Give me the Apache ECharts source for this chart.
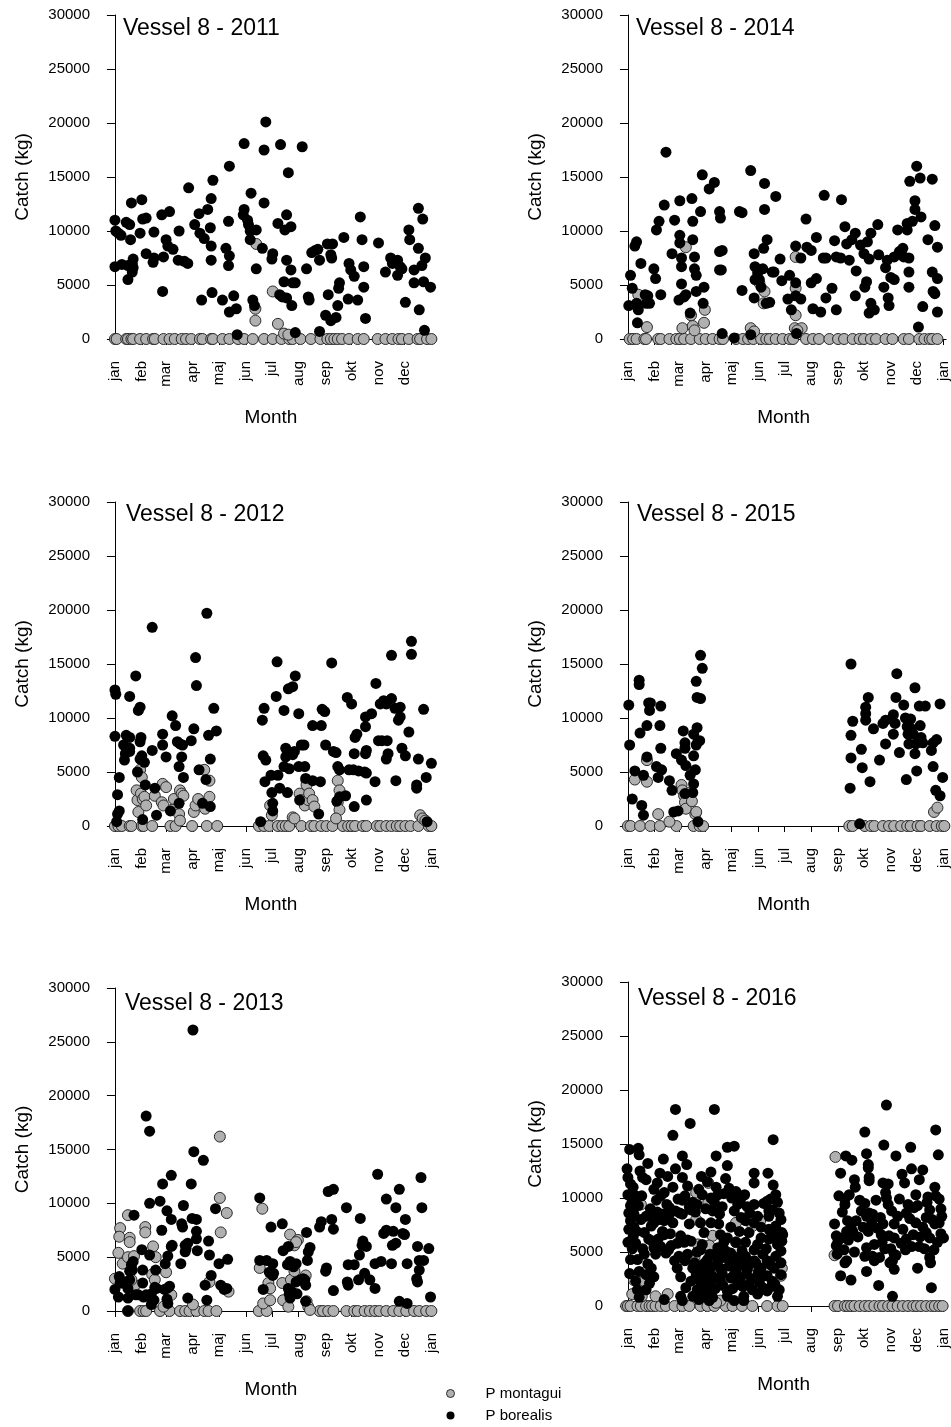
<!DOCTYPE html>
<html><head><meta charset="utf-8">
<script src="https://cdn.jsdelivr.net/npm/echarts@6/dist/echarts.min.js"></script>
<style>html,body{margin:0;padding:0;background:#fff}#c{width:951px;height:1427px}</style>
</head><body><div id="c"></div>
<script>
// ---- DATA (x = day of year, y = catch kg) ----
const monthStartDays = [0,31,59,90,120,151,181,212,243,273,304,334,365];
const monthNames = ['jan','feb','mar','apr','maj','jun','jul','aug','sep','okt','nov','dec','jan'];
const panelTitles = ['Vessel 8 - 2011','Vessel 8 - 2014','Vessel 8 - 2012','Vessel 8 - 2015','Vessel 8 - 2013','Vessel 8 - 2016'];

const bore2011 = [[0,11000],[0,6700],[1,10000],[4,9800],[7,9600],[8,6900],[13,10800],[15,5500],[15,6800],[17,10600],[18,9200],[19,12600],[20,7000],[21,7400],[20,6200],[21,6600],[29,9800],[31,12900],[32,11100],[36,11200],[36,7900],[45,9900],[44,7100],[45,7500],[54,11500],[55,4400],[56,7600],[59,9200],[61,8600],[63,11800],[67,8300],[74,10000],[73,7300],[80,7200],[84,7000],[85,14000],[92,10600],[97,11600],[98,9800],[100,3600],[103,9300],[107,12000],[110,10300],[111,13000],[113,14700],[111,8600],[111,7300],[112,4300],[124,3600],[128,8400],[131,10900],[132,7700],[131,6800],[132,16000],[132,2500],[137,4000],[140,2800],[141,400],[149,18100],[149,12000],[148,11500],[153,11000],[154,10600],[156,10000],[156,9200],[157,13500],[159,3600],[161,3100],[163,10100],[163,6500],[170,8400],[172,17500],[174,20100],[172,12600],[182,7900],[181,7400],[188,10700],[190,4100],[191,18000],[193,3900],[195,5300],[196,10100],[198,11500],[200,15400],[198,7300],[198,3800],[203,6400],[203,10400],[204,3100],[205,5200],[208,5200],[208,600],[216,17800],[221,6500],[223,3900],[224,3600],[227,8000],[231,8200],[234,8300],[236,7300],[236,700],[243,2200],[245,8800],[246,4100],[249,7800],[250,7500],[251,8800],[249,1700],[255,2000],[257,3100],[258,4700],[259,5200],[264,9400],[269,3700],[270,7000],[272,6400],[276,5800],[280,3600],[283,11300],[285,9200],[287,6700],[287,4800],[289,1900],[304,8900],[312,6200],[318,7500],[320,7000],[326,7300],[326,5900],[329,6700],[331,6500],[335,3400],[339,10100],[340,9200],[345,6400],[345,5200],[350,8400],[350,12100],[351,2700],[354,6800],[355,11100],[356,5300],[357,800],[358,7500],[364,4800]];
const mont2011 = [[0,0],[2,0],[13,0],[15,0],[19,0],[21,0],[29,0],[36,0],[44,0],[46,0],[56,0],[63,0],[69,0],[77,0],[82,0],[88,0],[98,0],[101,0],[111,0],[113,0],[124,0],[132,0],[142,0],[149,0],[159,0],[172,0],[182,0],[192,0],[201,0],[205,0],[214,0],[226,0],[237,0],[245,0],[249,0],[253,0],[257,0],[262,0],[270,0],[280,0],[287,0],[303,0],[312,0],[320,0],[327,0],[331,0],[339,0],[349,0],[352,0],[360,0],[365,0],[163,8800],[162,2800],[162,1700],[182,4400],[188,1400],[195,500],[200,400]];

const bore2014 = [[1,3100],[3,5900],[5,4700],[8,8600],[10,9000],[10,3300],[11,1500],[12,2700],[15,7000],[20,4100],[21,3300],[23,4000],[25,3300],[30,6500],[33,10100],[32,5600],[36,10900],[38,4100],[42,12400],[44,17300],[51,7900],[54,11000],[60,12800],[60,9600],[60,8900],[62,7500],[62,6700],[62,5100],[59,3600],[65,3900],[67,4100],[74,13000],[75,10900],[75,9200],[77,7600],[77,6500],[79,5900],[79,4400],[72,2400],[84,11800],[86,15200],[88,4800],[87,3300],[94,13900],[100,14500],[106,11800],[107,11200],[106,8100],[109,8200],[106,6400],[108,6400],[109,500],[123,100],[129,11800],[132,11700],[132,4500],[142,15600],[142,400],[146,7900],[147,6700],[147,5500],[146,3800],[150,6100],[152,5500],[154,4800],[157,8400],[158,12000],[158,14400],[161,9200],[156,6500],[160,3300],[164,3400],[167,6200],[169,6200],[171,13200],[176,7400],[178,5400],[185,3700],[187,5900],[189,2700],[194,8600],[194,5200],[194,4000],[195,500],[200,7500],[200,3700],[206,11100],[207,8500],[212,8200],[212,5200],[214,2800],[218,5600],[218,9400],[223,2500],[226,7500],[229,7500],[227,13300],[236,4700],[229,3800],[239,9100],[241,2700],[241,7600],[246,7500],[247,12900],[251,10400],[253,8800],[256,7300],[259,9200],[263,9800],[263,4000],[264,6300],[269,8700],[273,7900],[274,4800],[276,5300],[277,9000],[279,7400],[281,9800],[281,3300],[279,2400],[285,2700],[289,10600],[290,7800],[296,4800],[298,6600],[300,7300],[301,3800],[302,3100],[304,5700],[308,5500],[308,7600],[312,10100],[314,8100],[318,8400],[319,7600],[323,10100],[323,10700],[325,7500],[326,14600],[325,6200],[325,4800],[329,10900],[332,12800],[332,12000],[334,16000],[336,1100],[338,14900],[339,11300],[341,3000],[347,9200],[352,14800],[352,6200],[353,4400],[355,10500],[355,4200],[358,5600],[358,2500],[358,8500]];
const mont2014 = [[2,0],[6,0],[10,0],[19,0],[21,0],[35,0],[38,0],[48,0],[56,0],[60,0],[65,0],[73,0],[83,0],[90,0],[98,0],[106,0],[110,0],[125,0],[133,0],[139,0],[145,0],[154,0],[160,0],[164,0],[171,0],[179,0],[187,0],[191,0],[206,0],[214,0],[221,0],[233,0],[243,0],[250,0],[260,0],[268,0],[273,0],[281,0],[287,0],[298,0],[306,0],[319,0],[325,0],[337,0],[343,0],[349,0],[352,0],[358,0],[12,4100],[22,1100],[63,1000],[67,8500],[73,2200],[75,1200],[77,800],[89,2700],[88,1500],[142,1000],[146,700],[152,5200],[158,4400],[157,3300],[194,7600],[194,4700],[194,2200],[193,1000],[201,1000],[196,800]];

const bore2012 = [[0,8300],[0,12600],[1,12200],[3,2900],[5,4500],[3,1100],[5,1400],[2,400],[10,7500],[11,6100],[12,6700],[13,8400],[17,12000],[17,8200],[17,7200],[17,6900],[24,13900],[27,10700],[29,11000],[30,8200],[29,7800],[26,5000],[29,6200],[31,6500],[34,5900],[32,600],[35,3800],[43,18400],[43,7000],[46,3500],[48,1000],[55,8500],[55,7500],[59,6400],[66,10200],[70,9300],[72,7800],[74,5500],[75,7600],[77,6400],[78,7500],[79,4500],[74,2100],[64,1400],[88,7900],[91,9000],[93,15600],[94,13000],[97,5200],[101,2100],[105,4300],[106,19700],[108,8400],[110,6200],[110,1800],[114,10900],[117,8800],[168,400],[170,9800],[172,10900],[171,6500],[174,6100],[173,4100],[180,4700],[181,3100],[182,2100],[182,1400],[187,15200],[186,12000],[188,4700],[190,3500],[195,10700],[197,6400],[195,5500],[197,7200],[199,3100],[200,12700],[201,5300],[205,12900],[207,6900],[205,6600],[208,13900],[212,10400],[215,7500],[218,7500],[212,5500],[219,5500],[220,4400],[213,2400],[228,4200],[228,9300],[235,1100],[238,9300],[237,4100],[239,10800],[242,10600],[243,7500],[250,15100],[252,6900],[255,6800],[257,5500],[259,5200],[256,2300],[259,2700],[266,2800],[268,11900],[273,11300],[276,1800],[276,6700],[277,8200],[279,8500],[270,5200],[275,5200],[281,5100],[288,5000],[289,6700],[289,9200],[290,7000],[290,4900],[290,2400],[289,10100],[296,10400],[301,13200],[300,4100],[304,7900],[306,11300],[308,7900],[310,11600],[313,11300],[314,7900],[315,6700],[313,6200],[319,15800],[319,11800],[323,10900],[324,4200],[329,11000],[327,9800],[329,10100],[331,7200],[335,6500],[339,8700],[342,17100],[342,15900],[348,3500],[348,3800],[350,6200],[356,10800],[359,4500],[360,400],[365,5800]];
const mont2012 = [[0,0],[4,0],[8,0],[17,0],[19,0],[31,0],[33,0],[43,0],[64,0],[70,0],[89,0],[106,0],[118,0],[166,0],[172,0],[178,0],[188,0],[193,0],[197,0],[201,0],[215,0],[226,0],[230,0],[238,0],[244,0],[251,0],[263,0],[269,0],[273,0],[277,0],[286,0],[290,0],[302,0],[306,0],[313,0],[319,0],[325,0],[329,0],[335,0],[341,0],[350,0],[362,0],[365,0],[25,3300],[26,2400],[27,1300],[29,5200],[31,4500],[30,3000],[32,2500],[34,2700],[36,1900],[46,2800],[55,3900],[59,3600],[54,2200],[56,1900],[68,2500],[66,1500],[75,3300],[77,3000],[79,2800],[74,1100],[75,500],[91,1300],[93,1900],[96,2500],[103,5200],[104,1600],[109,4200],[109,2700],[179,1900],[181,1000],[205,800],[207,700],[213,3000],[215,2400],[219,1900],[221,4200],[221,3800],[223,2400],[224,3000],[228,2400],[230,1800],[257,4200],[259,3300],[257,2200],[259,1500],[255,700],[352,1000],[355,700],[358,500]];

const bore2015 = [[1,11200],[2,7500],[5,2500],[8,5100],[13,13500],[13,13100],[14,8600],[16,1900],[18,1000],[18,4700],[22,9300],[22,6400],[24,11400],[25,10700],[26,11400],[33,5500],[35,4500],[38,11100],[37,9300],[38,7200],[39,5200],[48,4200],[51,3300],[53,1300],[58,1400],[56,6700],[62,6100],[64,8800],[66,7700],[66,7200],[67,5600],[66,3000],[72,4700],[75,3100],[76,6500],[76,8500],[78,5200],[76,3900],[79,7500],[80,9100],[81,7800],[83,7900],[79,13400],[80,11900],[84,11800],[84,15800],[86,14600],[81,400],[258,15000],[258,8400],[258,6300],[257,3500],[260,9700],[268,200],[271,5400],[270,7100],[275,11000],[275,10400],[275,9800],[278,11900],[280,4100],[284,9000],[291,6100],[295,9500],[298,9800],[298,7600],[305,9900],[307,10300],[307,8500],[309,9500],[310,11900],[311,14100],[314,6800],[319,11200],[321,10000],[322,4300],[323,9200],[324,8500],[325,7600],[327,9900],[328,9000],[330,8500],[332,12800],[333,7600],[334,5100],[332,6700],[338,9300],[337,11100],[339,8200],[344,11100],[341,7700],[351,7000],[353,7700],[357,8000],[353,5500],[356,3300],[361,2800],[361,11300],[364,4500]];
const mont2015 = [[0,0],[3,0],[14,0],[26,0],[37,0],[56,0],[76,0],[83,0],[87,0],[256,0],[260,0],[274,0],[281,0],[285,0],[295,0],[302,0],[308,0],[316,0],[323,0],[327,0],[335,0],[339,0],[349,0],[357,0],[363,0],[366,0],[8,4300],[22,4100],[22,6100],[35,1100],[48,400],[62,3800],[63,3300],[65,2800],[66,2200],[67,1600],[72,3100],[74,2300],[78,1100],[79,1300],[354,1300],[358,1700]];

const bore2013 = [[0,2000],[4,1300],[5,3200],[6,2600],[9,2600],[13,2700],[15,0],[15,1200],[15,2100],[17,3700],[17,2900],[19,4300],[21,4600],[22,8900],[20,3800],[24,1500],[27,1500],[31,5700],[32,3800],[32,2600],[33,1300],[36,1500],[36,18100],[40,16700],[40,10000],[40,5200],[42,1600],[43,900],[45,1000],[46,2200],[47,3800],[48,2100],[42,600],[52,10200],[55,11800],[54,7500],[58,4400],[57,2000],[60,2100],[60,1100],[61,700],[61,5100],[63,2300],[60,9300],[65,12600],[65,8500],[65,6000],[66,6100],[76,4400],[77,8100],[78,7800],[79,9800],[81,6100],[81,5500],[82,5800],[84,6300],[84,1200],[88,11800],[89,8600],[90,26100],[91,14800],[94,8500],[94,7400],[94,6700],[95,5600],[102,14000],[104,2400],[106,1000],[108,6500],[109,5200],[111,3300],[116,9500],[120,4400],[122,2400],[126,2000],[130,4800],[129,2100],[167,10500],[167,4700],[171,2000],[175,4700],[178,3600],[180,7800],[182,3300],[182,4400],[183,3500],[193,8100],[194,5600],[199,4300],[200,6000],[200,2100],[201,1600],[202,1200],[202,4600],[204,1800],[206,4100],[209,2700],[210,1600],[209,4400],[214,2900],[217,3000],[220,2400],[220,900],[221,7300],[222,4700],[223,5500],[225,5900],[219,2900],[236,7800],[238,8300],[243,3700],[244,4000],[246,11100],[250,8500],[252,11300],[252,7600],[252,1900],[267,9600],[268,2700],[269,2400],[269,4300],[276,4300],[282,5200],[281,2900],[283,8600],[285,6100],[286,6500],[290,6000],[288,3500],[294,2900],[300,2100],[300,4400],[303,12700],[307,4600],[313,10400],[310,7200],[313,7500],[319,4400],[320,6100],[321,7400],[324,6300],[324,9600],[328,11300],[332,7200],[334,7100],[335,8500],[328,900],[337,700],[337,4400],[348,3000],[349,6000],[349,2700],[351,3800],[351,4700],[353,12400],[354,9600],[356,4700],[362,5800],[364,1300]];
const mont2013 = [[15,0],[29,0],[33,0],[36,0],[52,0],[63,0],[75,0],[81,0],[86,0],[94,0],[103,0],[108,0],[117,0],[166,0],[175,0],[236,0],[240,0],[246,0],[252,0],[267,0],[276,0],[280,0],[288,0],[294,0],[300,0],[305,0],[313,0],[321,0],[328,0],[336,0],[345,0],[351,0],[359,0],[365,0],[0,3000],[4,5400],[6,7700],[5,6900],[9,4400],[15,8900],[17,6800],[17,6400],[15,5000],[22,5100],[23,2400],[19,2900],[35,7800],[35,7300],[44,6000],[47,5000],[43,3400],[46,2900],[59,3600],[56,400],[65,1500],[90,600],[109,2700],[121,16200],[121,10500],[122,7300],[129,9100],[131,1800],[170,9500],[167,4000],[171,700],[177,2600],[179,2100],[179,1000],[193,2600],[194,1000],[200,400],[202,7100],[203,2900],[207,6100],[207,3700],[211,6600],[209,6400],[220,3300],[221,900],[223,400],[225,100]];

const bore2016 = [[55,18200],[100,18200],[72,16900],[52,15800],[168,15400],[2,14500],[12,14600],[13,14000],[115,14700],[123,14800],[102,13900],[63,13900],[41,13600],[23,13200],[68,13100],[115,13000],[-1,12700],[14,12500],[37,12300],[55,12700],[96,12400],[146,12300],[162,12300],[0,11900],[17,11900],[21,11700],[46,12000],[63,11900],[85,12000],[113,11800],[146,11400],[3,11300],[34,11400],[69,11100],[102,11000],[117,10900],[168,11200],[30,10800],[52,11000],[42,10500],[0,10300],[16,10200],[104,10300],[171,10300],[5,9700],[38,10200],[63,9800],[75,9600],[86,10300],[96,10000],[80,9400],[161,9700],[3,9300],[173,9600],[127,9400],[146,9400],[138,9200],[1,8600],[34,8700],[48,9100],[55,8800],[98,8800],[106,8500],[123,8800],[163,8800],[177,8000],[7,8500],[21,8300],[40,8500],[63,8500],[73,8900],[163,8300],[167,8900],[131,8200],[3,7900],[15,8000],[30,7700],[42,7900],[52,7700],[71,7600],[84,7700],[96,7700],[105,7600],[136,7900],[146,7700],[154,7300],[171,7400],[7,7300],[27,7400],[119,7300],[129,6900],[163,7100],[179,6600],[19,6800],[42,6600],[61,6500],[69,6100],[88,6800],[107,6600],[115,6300],[140,6800],[154,6300],[169,6500],[0,5900],[9,5800],[28,6000],[30,5400],[65,5900],[73,6000],[86,5700],[111,5900],[125,5900],[136,5900],[150,5700],[163,6200],[173,5700],[50,5600],[84,5200],[104,5400],[113,5100],[119,4900],[132,5100],[146,5200],[177,5100],[19,4800],[32,4800],[44,4900],[69,4800],[95,4800],[111,4500],[125,4500],[136,4600],[156,4800],[171,4600],[3,4300],[11,4300],[54,4200],[77,4000],[92,4300],[104,4200],[119,4200],[131,4000],[146,4200],[161,4200],[177,4000],[23,3900],[57,3500],[75,3500],[88,3200],[107,3500],[125,3200],[138,3400],[154,3500],[169,3500],[2,3000],[13,3200],[21,2900],[61,2700],[79,2900],[90,2800],[107,2400],[119,2600],[150,2800],[161,2800],[177,2900],[9,2300],[25,2100],[73,2300],[84,2200],[96,2000],[127,2000],[140,2000],[152,2200],[167,2300],[11,1500],[21,1500],[67,1700],[80,1500],[92,1500],[115,1400],[144,1500],[156,1700],[61,900],[75,900],[88,1100],[98,800],[115,900],[134,900],[150,1100],[161,1400],[173,900],[13,800],[42,600],[63,500],[82,600],[94,500],[123,500],[134,500],
  [26,9000],[28,8200],[33,9800],[36,8000],[40,6900],[45,9400],[47,8300],[49,6700],[58,9900],[60,8600],[66,10200],[71,9200],[78,8700],[82,10800],[90,9000],[92,11500],[100,9600],[109,9200],[111,10400],[120,10000],[125,10600],[130,9800],[135,10300],[141,8600],[150,8300],[157,9500],[165,9900],[175,8600],[178,6800],[6,6400],[10,6900],[24,6200],[35,6200],[38,5500],[47,5200],[57,5800],[59,4600],[66,4200],[80,5000],[83,3700],[85,2700],[87,1800],[89,4000],[91,2300],[93,3100],[96,3600],[99,2700],[101,1600],[103,4700],[109,3000],[110,1900],[117,3700],[121,1600],[123,2900],[128,3700],[130,2500],[133,1800],[137,3000],[142,3900],[143,2500],[148,4000],[151,3200],[158,2800],[160,5300],[165,3800],[166,1800],[170,2000],[175,1500],[178,6000],[27,3500],[30,2700],[17,5300],[5,5300],[1,7100],[9,10200],[12,9300],[6,11000],
  [299,18600],[274,16100],[356,16300],[296,14900],[327,14700],[276,14100],[359,14000],[310,13900],[252,13900],[259,13500],[278,13100],[278,12800],[328,12700],[341,12600],[246,12300],[317,12200],[262,11700],[279,11900],[320,11400],[337,11700],[279,11600],[295,11400],[301,11300],[355,11000],[263,11000],[298,10500],[333,10300],[356,10200],[244,10200],[251,9900],[256,10300],[299,10000],[347,10100],[360,9900],[274,9500],[301,9400],[324,9400],[331,9100],[349,8900],[362,9000],[251,9400],[279,8600],[305,8800],[312,8300],[322,8600],[254,7900],[264,7900],[276,8300],[283,8500],[345,8200],[239,7600],[258,7300],[272,7300],[278,6900],[295,7600],[308,7600],[318,7100],[333,7700],[341,7300],[355,7600],[362,6700],[253,6900],[241,6500],[243,6000],[247,6300],[260,6900],[293,6600],[308,6300],[322,6200],[330,6600],[349,6300],[345,6800],[358,5900],[241,5600],[285,5700],[297,5300],[276,5400],[321,5200],[337,5500],[242,4800],[274,4600],[283,4600],[291,4500],[308,4800],[306,4200],[349,4500],[350,4000],[253,4200],[303,4000],[285,4200],[308,3400],[276,3200],[251,4000],[335,3500],[246,2800],[258,2400],[290,1900],[351,1700],[306,900],
  [248,8700],[250,5200],[255,6100],[262,5000],[266,6400],[268,9800],[270,8800],[282,7700],[287,9800],[289,7200],[292,8200],[294,5900],[302,6500],[304,5300],[310,4700],[314,9900],[316,5800],[326,8100],[328,5500],[335,9300],[338,6400],[343,5300],[346,9600],[352,8000],[354,5200],[360,7700],[363,8300],[365,6300]];
const mont2016 = [[-2,0],[0,0],[3,0],[11,0],[15,0],[21,0],[25,0],[28,0],[32,0],[38,0],[44,0],[54,0],[63,0],[71,0],[84,0],[92,0],[100,0],[113,0],[121,0],[132,0],[144,0],[161,0],[173,0],[179,0],[239,0],[243,0],[251,0],[254,0],[258,0],[262,0],[268,0],[274,0],[279,0],[285,0],[291,0],[295,0],[301,0],[306,0],[312,0],[318,0],[324,0],[330,0],[334,0],[339,0],[345,0],[351,0],[355,0],[360,0],[364,0],[15,9400],[7,2400],[5,1100],[16,900],[32,900],[46,1100],[21,3200],[19,2300],[79,10500],[93,11400],[93,9600],[79,8000],[98,6500],[94,5600],[81,5700],[77,4500],[100,3700],[125,7700],[125,5900],[144,7400],[153,7900],[143,2800],[127,2600],[150,2300],[177,2800],[178,3500],[107,500],[102,300],[240,13800],[239,4700]];

const panelMont = [mont2011, mont2014, mont2012, mont2015, mont2013, mont2016];
const panelBore = [bore2011, bore2014, bore2012, bore2015, bore2013, bore2016];
const panelHasEndJan = [false, true, true, true, true, true];

// ---- LAYOUT ----
const FONT = 'Liberation Sans, Arial, Helvetica, sans-serif';
const layout = [
  {left:108, top:15,  height:324},
  {left:621, top:15,  height:324},
  {left:108, top:502, height:324},
  {left:621, top:502, height:324},
  {left:108, top:988, height:323},
  {left:621, top:982, height:324}
];
const titlePos = [[123,17],[636,17],[126,503],[637,503],[125,992],[638,987]];

const chart = echarts.init(document.getElementById('c'), null, {renderer:'canvas'});
const grids = [], xAxes = [], yAxes = [], series = [], titles = [];
layout.forEach((g, i) => {
  grids.push({left:g.left, top:g.top, width:326, height:g.height, containLabel:false});
  const ticks = panelHasEndJan[i] ? monthStartDays : monthStartDays.slice(0, 12);
  xAxes.push({
    type:'value', gridIndex:i, min:-8, max:368,
    splitLine:{show:false},
    axisLine:{show:true, onZero:false, lineStyle:{color:'#000', width:1}},
    axisTick:{show:true, length:6, inside:false, customValues:ticks, lineStyle:{color:'#000'}},
    axisLabel:{show:true, rotate:90, margin:22, customValues:ticks, color:'#000', fontSize:15, fontFamily:FONT,
      formatter:(v) => monthNames[monthStartDays.indexOf(Math.round(v))] || ''},
    name:'Month', nameLocation:'middle', nameGap:69,
    nameTextStyle:{fontSize:19, color:'#000', fontFamily:FONT}
  });
  yAxes.push({
    type:'value', gridIndex:i, min:0, max:30000, interval:5000,
    splitLine:{show:false},
    axisLine:{show:true, lineStyle:{color:'#000', width:1}},
    axisTick:{show:true, length:8, inside:false, lineStyle:{color:'#000'}},
    axisLabel:{margin:18, color:'#000', fontSize:15, fontFamily:FONT, formatter:(v) => String(v)},
    name:'Catch (kg)', nameLocation:'middle', nameRotate:90, nameGap:76,
    nameTextStyle:{fontSize:19, color:'#000', fontFamily:FONT}
  });
  titles.push({text:panelTitles[i], left:titlePos[i][0], top:titlePos[i][1], padding:0,
    textStyle:{fontSize:23, fontWeight:'normal', color:'#000', fontFamily:FONT}});
  series.push({
    type:'scatter', name:'P montagui', xAxisIndex:i, yAxisIndex:i, data:panelMont[i],
    symbol:'circle', symbolSize:11,
    itemStyle:{color:'#b0b0b0', borderColor:'#2a2a2a', borderWidth:1, opacity:1},
    emphasis:{disabled:true}
  });
  series.push({
    type:'scatter', name:'P borealis', xAxisIndex:i, yAxisIndex:i, data:panelBore[i],
    symbol:'circle', symbolSize:11,
    itemStyle:{color:'#000', borderColor:'#000', borderWidth:0, opacity:1},
    emphasis:{disabled:true}
  });
});

chart.setOption({
  animation:false,
  backgroundColor:'#fff',
  textStyle:{fontFamily:FONT},
  title:titles,
  grid:grids, xAxis:xAxes, yAxis:yAxes, series:series,
  legend:{
    orient:'vertical', left:446, top:1386, padding:0, itemWidth:60, itemHeight:8, itemGap:7,
    icon:'circle', selectedMode:false,
    data:[{name:'P montagui', itemStyle:{color:'#b0b0b0', borderColor:'#2a2a2a', borderWidth:1}},
          {name:'P borealis', itemStyle:{color:'#000'}}],
    textStyle:{fontSize:15, color:'#000', fontFamily:FONT}
  }
});
</script>
</body></html>
